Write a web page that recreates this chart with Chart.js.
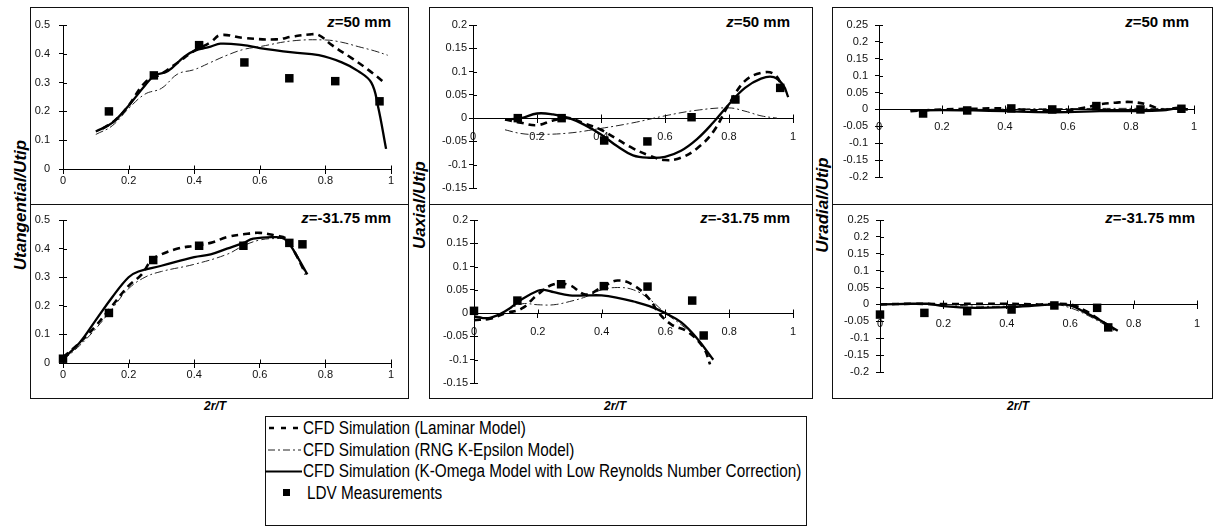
<!DOCTYPE html>
<html><head><meta charset="utf-8">
<script src="https://cdn.jsdelivr.net/npm/chart.js@4/dist/chart.umd.min.js"></script>
<style>
html,body{margin:0;padding:0;background:#fff;width:1217px;height:526px;overflow:hidden;font-family:"Liberation Sans",Arial,sans-serif;color:#000;}
.box{position:absolute;border:1px solid #111;box-sizing:border-box;}
.hl{position:absolute;height:0;border-top:1px solid #111;}
canvas{position:absolute;}
.title{position:absolute;font-weight:bold;font-size:15px;white-space:nowrap;line-height:16px;}
.ylab{position:absolute;font-weight:bold;font-style:italic;font-size:17px;white-space:nowrap;transform:translate(-50%,-50%) rotate(-90deg);line-height:18px;}
.xlab{position:absolute;font-weight:bold;font-style:italic;font-size:12px;white-space:nowrap;transform:translate(-50%,-50%);line-height:14px;}
.lg{position:absolute;left:303px;font-size:18px;white-space:nowrap;line-height:20px;transform-origin:0 50%;transform:translateY(-50%) scaleX(0.85);}
</style></head>
<body>
<div class="box" style="left:30px;top:7px;width:379px;height:392px"></div>
<div class="hl" style="left:30px;top:204px;width:379px"></div>
<div class="box" style="left:429px;top:7px;width:384px;height:392px"></div>
<div class="hl" style="left:429px;top:204px;width:384px"></div>
<div class="box" style="left:832px;top:7px;width:381px;height:392px"></div>
<div class="hl" style="left:832px;top:204px;width:381px"></div>

<div class="ylab" style="left:21px;top:205px">Utangential/Utip</div>
<div class="ylab" style="left:420px;top:205px">Uaxial/Utip</div>
<div class="ylab" style="left:823px;top:205px">Uradial/Utip</div>
<div class="xlab" style="left:215px;top:406px">2r/T</div>
<div class="xlab" style="left:615px;top:406px">2r/T</div>
<div class="xlab" style="left:1018px;top:406px">2r/T</div>

<div class="title" style="right:826px;top:14px"><i>z</i>=50 mm</div>
<div class="title" style="right:427px;top:14px"><i>z</i>=50 mm</div>
<div class="title" style="right:28px;top:14px"><i>z</i>=50 mm</div>
<div class="title" style="right:826px;top:210px"><i>z</i>=-31.75 mm</div>
<div class="title" style="right:427px;top:210px"><i>z</i>=-31.75 mm</div>
<div class="title" style="right:22px;top:210px"><i>z</i>=-31.75 mm</div>

<div class="box" style="left:265px;top:416px;width:542px;height:110px"></div>
<svg style="position:absolute;left:0;top:0" width="1217" height="526">
  <line x1="269" y1="428" x2="300" y2="428" stroke="#000" stroke-width="2.6" stroke-dasharray="5,7"/>
  <line x1="268" y1="450" x2="301" y2="450" stroke="#222" stroke-width="1" stroke-dasharray="7,3,2,3"/>
  <line x1="265" y1="471.5" x2="302" y2="471.5" stroke="#000" stroke-width="2"/>
  <rect x="283" y="489" width="7" height="7" fill="#000"/>
</svg>
<div class="lg" style="top:428px">CFD Simulation (Laminar Model)</div>
<div class="lg" style="top:450px">CFD Simulation (RNG K-Epsilon Model)</div>
<div class="lg" style="top:471px">CFD Simulation (K-Omega Model with Low Reynolds Number Correction)</div>
<div class="lg" style="top:493px;left:307px">LDV Measurements</div>

<script>
// ---------- tick labels ----------
const xTickValues = [0, 0.2, 0.4, 0.6, 0.8, 1];
const tangTicks = [0, 0.1, 0.2, 0.3, 0.4, 0.5];
const axialTicks = [-0.15, -0.1, -0.05, 0, 0.05, 0.1, 0.15, 0.2];
const radialTicks = [-0.2, -0.15, -0.1, -0.05, 0, 0.05, 0.1, 0.15, 0.2, 0.25];
const seriesNames = ['CFD Simulation (Laminar Model)', 'CFD Simulation (RNG K-Epsilon Model)',
  'CFD Simulation (K-Omega Model with Low Reynolds Number Correction)', 'LDV Measurements'];

// ---------- Tangential, z = 50 mm ----------
const tangTopLaminar = [[0.12,0.14],[0.16,0.17],[0.2,0.22],[0.25,0.3],[0.3,0.33],[0.35,0.37],[0.4,0.41],[0.45,0.44],[0.48,0.465],[0.55,0.455],[0.65,0.45],[0.7,0.46],[0.75,0.467],[0.78,0.465],[0.82,0.43],[0.88,0.385],[0.93,0.345],[0.98,0.3]];
const tangTopRng = [[0.1,0.12],[0.15,0.15],[0.2,0.21],[0.25,0.26],[0.3,0.28],[0.35,0.33],[0.4,0.345],[0.45,0.37],[0.5,0.395],[0.55,0.415],[0.6,0.425],[0.7,0.445],[0.8,0.448],[0.85,0.44],[0.9,0.425],[0.95,0.41],[0.99,0.395]];
const tangTopKomega = [[0.1,0.13],[0.15,0.16],[0.2,0.22],[0.25,0.29],[0.28,0.325],[0.32,0.34],[0.37,0.39],[0.4,0.41],[0.45,0.425],[0.48,0.435],[0.55,0.43],[0.6,0.42],[0.7,0.405],[0.78,0.395],[0.85,0.37],[0.9,0.34],[0.94,0.3],[0.96,0.22],[0.985,0.07]];
const tangTopLdv = [[0.14,0.2],[0.277,0.325],[0.415,0.43],[0.553,0.37],[0.69,0.315],[0.83,0.305],[0.965,0.235]];

// ---------- Tangential, z = -31.75 mm ----------
const tangBotLaminar = [[0,0.02],[0.05,0.07],[0.1,0.13],[0.15,0.2],[0.2,0.27],[0.24,0.31],[0.27,0.36],[0.3,0.38],[0.35,0.4],[0.4,0.41],[0.45,0.42],[0.5,0.44],[0.55,0.45],[0.6,0.455],[0.65,0.445],[0.68,0.435],[0.71,0.38],[0.74,0.31]];
const tangBotRng = [[0,0.01],[0.05,0.06],[0.1,0.12],[0.15,0.19],[0.2,0.26],[0.25,0.3],[0.3,0.32],[0.4,0.345],[0.5,0.38],[0.55,0.41],[0.6,0.43],[0.65,0.435],[0.68,0.43],[0.71,0.38],[0.74,0.31]];
const tangBotKomega = [[0,0.015],[0.05,0.07],[0.1,0.15],[0.15,0.23],[0.2,0.3],[0.23,0.32],[0.3,0.34],[0.4,0.37],[0.45,0.38],[0.5,0.4],[0.55,0.42],[0.58,0.435],[0.65,0.44],[0.68,0.43],[0.71,0.38],[0.745,0.31]];
const tangBotLdv = [[0,0.015],[0.14,0.175],[0.275,0.36],[0.415,0.41],[0.55,0.41],[0.69,0.42],[0.73,0.415]];

// ---------- Axial, z = 50 mm ----------
const axTopLaminar = [[0.1,-0.003],[0.15,-0.01],[0.2,-0.015],[0.25,-0.005],[0.3,0],[0.35,-0.012],[0.4,-0.025],[0.45,-0.045],[0.5,-0.065],[0.55,-0.08],[0.6,-0.09],[0.65,-0.085],[0.7,-0.065],[0.75,-0.03],[0.8,0.03],[0.85,0.08],[0.9,0.097],[0.94,0.095],[0.97,0.065]];
const axTopRng = [[0.1,-0.025],[0.15,-0.033],[0.2,-0.035],[0.3,-0.032],[0.4,-0.022],[0.5,-0.01],[0.6,0.005],[0.7,0.017],[0.8,0.022],[0.85,0.015],[0.9,0.005],[0.95,0]];
const axTopKomega = [[0.1,-0.003],[0.15,0],[0.2,0.01],[0.25,0.008],[0.3,0],[0.35,-0.015],[0.4,-0.035],[0.45,-0.06],[0.5,-0.08],[0.55,-0.085],[0.6,-0.083],[0.65,-0.07],[0.7,-0.045],[0.75,-0.01],[0.8,0.03],[0.85,0.065],[0.9,0.085],[0.94,0.088],[0.97,0.07],[0.985,0.045]];
const axTopLdv = [[0.14,0],[0.277,0],[0.41,-0.048],[0.545,-0.05],[0.683,0.002],[0.82,0.04],[0.96,0.065]];

// ---------- Axial, z = -31.75 mm ----------
const axBotLaminar = [[0,-0.015],[0.05,-0.012],[0.1,0],[0.15,0.01],[0.2,0.04],[0.25,0.062],[0.3,0.06],[0.35,0.04],[0.4,0.055],[0.45,0.07],[0.5,0.06],[0.55,0.03],[0.58,0],[0.62,-0.025],[0.67,-0.04],[0.72,-0.075],[0.74,-0.11]];
const axBotRng = [[0,-0.005],[0.05,-0.01],[0.1,0.005],[0.15,0.02],[0.2,0.018],[0.25,0.018],[0.3,0.025],[0.35,0.035],[0.4,0.05],[0.45,0.055],[0.5,0.05],[0.55,0.03],[0.6,0],[0.65,-0.025],[0.7,-0.055],[0.74,-0.095]];
const axBotKomega = [[0,-0.008],[0.05,-0.01],[0.1,0.005],[0.15,0.03],[0.2,0.048],[0.22,0.05],[0.25,0.045],[0.3,0.038],[0.35,0.038],[0.4,0.038],[0.45,0.033],[0.5,0.025],[0.55,0.015],[0.6,0],[0.65,-0.02],[0.7,-0.055],[0.75,-0.1]];
const axBotLdv = [[0,0.005],[0.136,0.027],[0.273,0.062],[0.407,0.058],[0.544,0.057],[0.684,0.027],[0.72,-0.048]];

// ---------- Radial, z = 50 mm ----------
const radTopLaminar = [[0.1,-0.005],[0.2,0],[0.3,0.002],[0.4,0.003],[0.5,-0.003],[0.6,-0.002],[0.65,0.005],[0.7,0.015],[0.75,0.02],[0.8,0.022],[0.85,0.015],[0.9,0],[0.95,0.005],[0.98,0]];
const radTopRng = [[0.1,-0.002],[0.3,0],[0.5,0.002],[0.7,0.003],[0.9,0.003],[0.98,0.002]];
const radTopKomega = [[0.1,-0.003],[0.2,-0.002],[0.3,-0.003],[0.4,-0.005],[0.5,-0.008],[0.6,-0.008],[0.7,-0.005],[0.8,-0.005],[0.9,-0.003],[0.95,0.003],[0.98,0]];
const radTopLdv = [[0.14,-0.012],[0.28,-0.003],[0.42,0.003],[0.55,0],[0.69,0.01],[0.83,0],[0.96,0.002]];

// ---------- Radial, z = -31.75 mm ----------
const radBotLaminar = [[0,0],[0.1,0.002],[0.2,0.001],[0.3,0.002],[0.4,0.002],[0.5,0],[0.6,0],[0.65,-0.02],[0.7,-0.05],[0.74,-0.075]];
const radBotRng = [[0,0],[0.2,0],[0.3,-0.005],[0.4,-0.005],[0.55,0],[0.6,-0.01],[0.65,-0.03],[0.7,-0.055],[0.74,-0.075]];
const radBotKomega = [[0,0],[0.1,0.002],[0.15,0.002],[0.2,-0.005],[0.3,-0.01],[0.4,-0.008],[0.5,-0.003],[0.55,0],[0.6,-0.003],[0.65,-0.025],[0.7,-0.05],[0.75,-0.078]];
const radBotLdv = [[0,-0.03],[0.14,-0.025],[0.275,-0.02],[0.415,-0.015],[0.55,-0.003],[0.685,-0.01],[0.72,-0.068]];

Chart.defaults.font.family = '"Liberation Sans", Arial, sans-serif';
Chart.defaults.font.size = 11;
Chart.defaults.color = '#000';

const crossTicks = {
  id: 'crossTicks',
  afterDraw(chart) {
    const ctx = chart.ctx, xs = chart.scales.x, ys = chart.scales.y;
    const y0 = Math.round(ys.getPixelForValue(0)) + 0.5;
    ctx.save();
    ctx.strokeStyle = '#000'; ctx.lineWidth = 1;
    ctx.beginPath();
    xs.ticks.forEach(t => { const px = Math.round(xs.getPixelForValue(t.value)) + 0.5; ctx.moveTo(px, y0); ctx.lineTo(px, y0 - 4); });
    ys.ticks.forEach(t => { const py = Math.round(ys.getPixelForValue(t.value)) + 0.5; ctx.moveTo(xs.left, py); ctx.lineTo(xs.left + 4, py); });
    ctx.stroke();
    ctx.restore();
  }
};

const panels = [
  {x:30, y:8, w:378, h:196, l:63, r:391, t:25, b:169, yt:tangTicks, xpad:1, ypad:9, s:[tangTopLaminar,tangTopRng,tangTopKomega,tangTopLdv]},
  {x:30, y:204, w:378, h:194, l:63, r:391, t:220, b:363, yt:tangTicks, xpad:1, ypad:9, s:[tangBotLaminar,tangBotRng,tangBotKomega,tangBotLdv]},
  {x:429, y:8, w:383, h:196, l:473, r:793, t:25, b:188, yt:axialTicks, xpad:8, ypad:2, s:[axTopLaminar,axTopRng,axTopKomega,axTopLdv]},
  {x:429, y:204, w:383, h:194, l:474, r:793, t:220, b:383, yt:axialTicks, xpad:8, ypad:2, s:[axBotLaminar,axBotRng,axBotKomega,axBotLdv]},
  {x:832, y:8, w:380, h:196, l:879, r:1194, t:25, b:177, yt:radialTicks, xpad:7, ypad:7, s:[radTopLaminar,radTopRng,radTopKomega,radTopLdv]},
  {x:832, y:204, w:380, h:194, l:880, r:1197, t:220, b:372, yt:radialTicks, xpad:9, ypad:7, s:[radBotLaminar,radBotRng,radBotKomega,radBotLdv]}
];

const pts = arr => arr.map(([x, y]) => ({x, y}));

panels.forEach(p => {
  const cv = document.createElement('canvas');
  cv.width = p.w; cv.height = p.h;
  cv.style.left = p.x + 'px'; cv.style.top = p.y + 'px';
  cv.style.width = p.w + 'px'; cv.style.height = p.h + 'px';
  document.body.appendChild(cv);
  new Chart(cv, {
    type: 'scatter',
    data: { datasets: [
      {label: seriesNames[3], data: pts(p.s[3]), showLine: false, pointStyle: 'rect', pointRadius: 6, pointHoverRadius: 6,
       backgroundColor: '#000', borderColor: '#000', borderWidth: 0, clip: false},
      {label: seriesNames[2], data: pts(p.s[2]), showLine: true, borderColor: '#000', borderWidth: 2.3, pointRadius: 0, tension: 0.4, clip: false},
      {label: seriesNames[0], data: pts(p.s[0]), showLine: true, borderColor: '#000', borderWidth: 2.6, borderDash: [7, 5], pointRadius: 0, tension: 0.4, clip: false},
      {label: seriesNames[1], data: pts(p.s[1]), showLine: true, borderColor: '#222', borderWidth: 1, borderDash: [8, 3, 2, 3], pointRadius: 0, tension: 0.4, clip: false}
    ]},
    options: {
      responsive: false, animation: false, devicePixelRatio: 1,
      layout: { padding: { left: 0, top: p.t - p.y, right: p.x + p.w - p.r, bottom: p.y + p.h - p.b } },
      plugins: { legend: { display: false }, tooltip: { enabled: false } },
      events: [],
      scales: {
        x: {
          type: 'linear', min: 0, max: 1, position: { y: 0 },
          afterBuildTicks: s => { s.ticks = xTickValues.map(v => ({value: v})); },
          grid: { drawOnChartArea: false, tickLength: 4, color: '#000' },
          border: { color: '#000', width: 1 },
          ticks: { padding: p.xpad, maxRotation: 0, autoSkip: false, color: '#111', callback: v => String(v) }
        },
        y: {
          type: 'linear', min: p.yt[0], max: p.yt[p.yt.length - 1],
          afterBuildTicks: s => { s.ticks = p.yt.map(v => ({value: v})); },
          afterFit: s => { s.width = p.l - p.x; },
          grid: { drawOnChartArea: false, tickLength: 4, color: '#000' },
          border: { color: '#000', width: 1 },
          ticks: { padding: p.ypad, autoSkip: false, color: '#111', callback: v => String(v) }
        }
      }
    },
    plugins: [crossTicks]
  });
});
</script>
</body></html>
